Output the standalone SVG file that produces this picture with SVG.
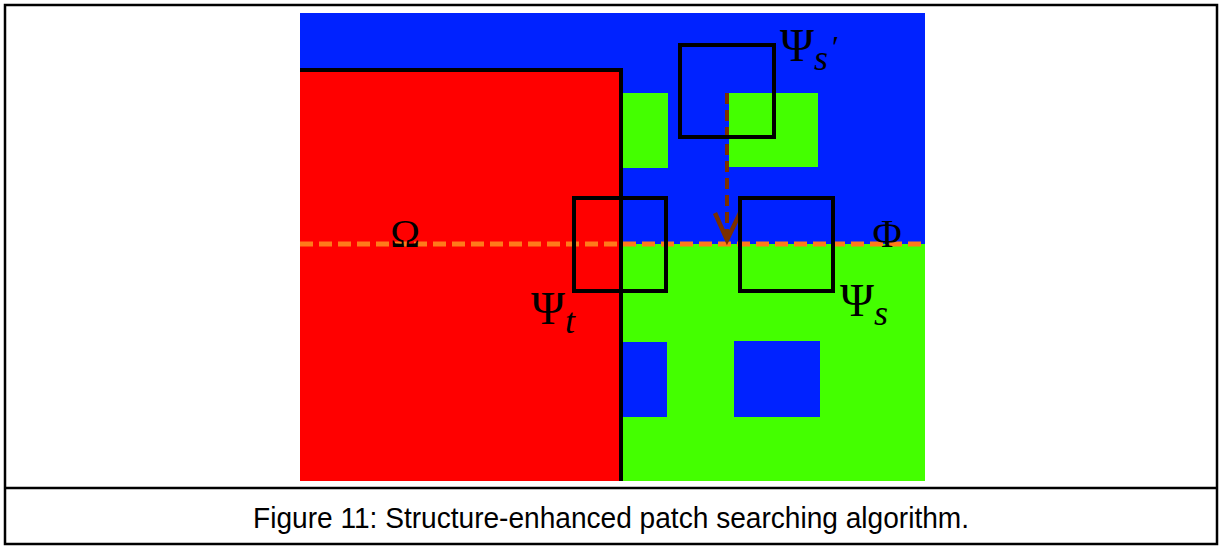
<svg xmlns="http://www.w3.org/2000/svg" width="1221" height="548" viewBox="0 0 1221 548">
<style>
.frame{fill:none;stroke:#000;stroke-width:2.5}
.patch{fill:none;stroke:#000;stroke-width:4}
.blue{fill:#0022ff}
.green{fill:#44ff00}
.math{font-family:"Liberation Serif","DejaVu Serif",serif;fill:#000}
.cap{font-family:"Liberation Sans Narrow","Liberation Sans",sans-serif;font-size:29px;fill:#000}
</style>
<rect x="0" y="0" width="1221" height="548" fill="#fff"/>
<g id="frame">
<rect class="frame" x="5" y="5" width="1212" height="539"/>
<line class="frame" x1="5" y1="488" x2="1217" y2="488"/>
</g>
<g id="background">
<rect class="blue" x="300" y="13" width="625" height="232"/>
<rect class="green" x="621" y="244" width="304" height="237"/>
<rect class="green" x="623" y="93" width="45" height="75"/>
<rect class="green" x="729" y="93" width="89" height="74"/>
<rect class="blue" x="623" y="342" width="44" height="75"/>
<rect class="blue" x="734" y="341" width="86" height="76"/>
</g>
<g id="omega-region">
<rect x="300" y="70" width="321" height="411" fill="#ff0000"/>
<polyline points="300,70 621,70 621,481" fill="none" stroke="#000" stroke-width="4"/>
</g>
<g id="connectors">
<line x1="300" y1="244" x2="925" y2="244" stroke="#ff7a1a" stroke-width="5" stroke-dasharray="13,6"/>
<line x1="727" y1="93" x2="727" y2="236" stroke="#7a3000" stroke-width="4" stroke-dasharray="11,6"/>
<polyline points="715,213 727,240 740,213" fill="none" stroke="#7a3000" stroke-width="4.5"/>
</g>
<g id="patch-t"><rect class="patch" x="574" y="198" width="92" height="93"/></g>
<g id="patch-s"><rect class="patch" x="740" y="198" width="93" height="93"/></g>
<g id="patch-s-prime"><rect class="patch" x="680" y="45" width="94" height="92"/></g>
<g id="labels">
<text class="math" x="405" y="247" font-size="40" text-anchor="middle">Ω</text>
<text class="math" x="887" y="247" font-size="40" text-anchor="middle">Φ</text>
<text class="math" x="531" y="324" font-size="46">Ψ<tspan font-style="italic" font-size="36" dy="9">t</tspan></text>
<text class="math" x="840" y="316" font-size="46">Ψ<tspan font-style="italic" font-size="36" dy="9">s</tspan></text>
<text class="math" x="780" y="61" font-size="46">Ψ<tspan font-style="italic" font-size="36" dy="9">s</tspan><tspan font-size="32" dx="4" dy="-12">′</tspan></text>
</g>
<g id="caption">
<text class="cap" x="611" y="528" text-anchor="middle" textLength="716" lengthAdjust="spacingAndGlyphs">Figure 11: Structure-enhanced patch searching algorithm.</text>
</g>
</svg>
